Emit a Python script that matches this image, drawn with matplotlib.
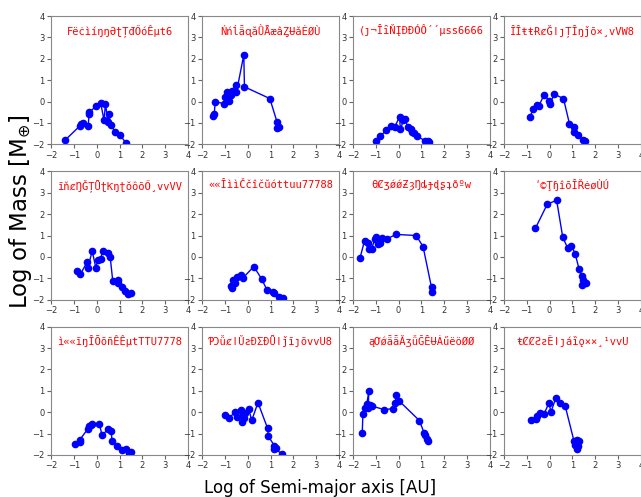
import numpy as np
import matplotlib
matplotlib.use("Agg")
import matplotlib.pyplot as plt

# panel titles (as printed in the reference)
titles = [
    "FëċìíŋŋƏʈȚđŐóÊµt6",
    "ŃńĺǟɋăǛǞæâȤɄǎĖØÙ",
    "(ȷ¬ȊȋŇĮĐĐÓÔ´´µss6666",
    "ȊȊŧŧɌȼǦǀȷȚȊŋǰõ×¸vVW8",
    "ĩňȼŊǦȚǕʈƘŋʈŏôõŐ¸vvVV",
    "««ȊììČčîčŭóttuu77788",
    "θȻʒǿǿƵȝŊȡɟɖʂʇðºw",
    "ʹ©ŢɧîōȊŘėøÙÚ",
    "ì««ĩŋȊŌõñÊÊµtTTU7778",
    "ƤƆǚȼǀǓƨƉƩƉǕǀǰĩȷõvvU8",
    "ąƠǿǟǟǍʒǚĞȆɄȦűëöØØ",
    "ŧȻȻƧƨȄǀȷáȉǫ××¸¹vvU",
]

# log semi-major axis / log mass for each panel
x1 = [-1.38, -0.75, -0.7, -0.6, -0.37, -0.34, -0.33, -0.04, 0.17, 0.32, 0.38, 0.5, 0.53, 0.62, 0.81, 1.0, 1.27]
y1 = [-1.8, -1.15, -1.05, -1.0, -1.13, -0.6, -0.5, -0.23, -0.05, -0.88, -0.12, -0.95, -0.6, -1.1, -1.43, -1.54, -1.92]

x2 = [-1.53, -1.46, -1.42, -1.04, -0.98, -0.91, -0.81, -0.71, -0.69, -0.52, -0.49, -0.17, -0.14, 0.97, 1.28, 1.28, 1.35]
y2 = [-0.66, -0.58, 0.0, -0.1, 0.23, 0.46, 0.05, 0.31, 0.5, 0.77, 0.43, 2.18, 0.69, 0.14, -0.94, -1.25, -1.2]

x3 = [-1.01, -0.81, -0.54, -0.33, -0.17, 0.04, 0.08, 0.21, 0.27, 0.4, 0.56, 0.59, 0.69, 0.79, 1.17, 1.27, 1.35]
y3 = [-1.85, -1.62, -1.35, -1.12, -1.18, -0.72, -1.3, -0.88, -0.82, -1.18, -1.28, -1.43, -1.49, -1.62, -1.83, -1.86, -1.89]

x4 = [-0.86, -0.71, -0.54, -0.48, -0.24, -0.02, 0.02, 0.2, 0.61, 0.87, 1.05, 1.08, 1.25, 1.46, 1.56]
y4 = [-0.72, -0.35, -0.15, -0.23, 0.31, 0.05, -0.11, 0.35, 0.14, -1.03, -1.18, -1.4, -1.58, -1.8, -1.85]

x5 = [-0.86, -0.72, -0.41, -0.39, -0.2, -0.04, 0.05, 0.17, 0.26, 0.51, 0.59, 0.7, 0.91, 0.94, 1.12, 1.22, 1.36, 1.48]
y5 = [-0.65, -0.82, -0.22, -0.53, 0.28, -0.5, -0.14, -0.09, 0.28, 0.16, -0.02, -1.12, -1.07, -1.23, -1.41, -1.6, -1.74, -1.71]

x6 = [-0.73, -0.69, -0.62, -0.54, -0.46, -0.31, -0.22, 0.27, 0.62, 0.85, 1.09, 1.13, 1.38, 1.55]
y6 = [-1.35, -1.46, -1.1, -1.22, -0.96, -0.85, -1.0, -0.45, -1.05, -1.56, -1.65, -1.68, -1.87, -1.94]

x7 = [-1.68, -1.49, -1.33, -1.3, -1.18, -1.04, -0.98, -0.88, -0.81, -0.73, -0.5, -0.11, 0.77, 1.07, 1.44, 1.44]
y7 = [-0.03, 0.76, 0.64, 0.36, 0.39, 0.82, 0.95, 0.62, 0.64, 0.87, 0.85, 1.05, 1.0, 0.48, -1.43, -1.65]

x8 = [-0.62, -0.1, 0.31, 0.58, 0.8, 0.96, 1.12, 1.29, 1.4, 1.46, 1.44, 1.6]
y8 = [1.33, 2.46, 2.65, 0.91, 0.4, 0.52, 0.15, -0.56, -0.89, -1.1, -1.32, -1.2]

x9 = [-0.95, -0.75, -0.75, -0.38, -0.34, -0.26, -0.19, 0.11, 0.23, 0.51, 0.63, 0.67, 0.88, 1.09, 1.3, 1.4, 1.51]
y9 = [-1.5, -1.39, -1.3, -0.77, -0.65, -0.6, -0.53, -0.53, -1.06, -0.8, -0.88, -1.34, -1.59, -1.76, -1.71, -1.89, -1.85]

x10 = [-0.98, -0.81, -0.54, -0.46, -0.31, -0.25, -0.19, -0.14, -0.11, 0.04, 0.18, 0.45, 0.87, 0.91, 1.17, 1.23, 1.17, 1.52]
y10 = [-0.12, -0.25, 0.0, -0.22, 0.11, -0.45, -0.1, -0.25, -0.02, 0.15, -0.38, 0.45, -0.75, -1.13, -1.57, -1.68, -1.74, -1.93]

x11 = [-1.59, -1.56, -1.45, -1.39, -1.3, -1.33, -1.27, -1.18, -0.62, -0.25, -0.14, -0.11, 0.01, 0.91, 1.12, 1.14, 1.23, 1.29]
y11 = [-0.97, -0.07, 0.2, 0.38, 1.0, 0.22, 0.32, 0.29, 0.12, 0.17, 0.43, 0.82, 0.54, -0.39, -0.98, -1.08, -1.23, -1.33]

x12 = [-0.83, -0.59, -0.54, -0.42, -0.24, -0.02, 0.06, 0.27, 0.46, 0.69, 1.07, 1.13, 1.19, 1.28, 1.22, 1.25]
y12 = [-0.36, -0.33, -0.2, -0.05, -0.08, 0.44, 0.0, 0.65, 0.44, 0.27, -1.35, -1.51, -1.29, -1.33, -1.7, -1.6]

xs = [x1, x2, x3, x4, x5, x6, x7, x8, x9, x10, x11, x12]
ys = [y1, y2, y3, y4, y5, y6, y7, y8, y9, y10, y11, y12]

fig, axes = plt.subplots(3, 4, figsize=(6.41, 4.97), dpi=100)
fig.subplots_adjust(left=51/641, right=1.0, top=1-16/497, bottom=1-455/497,
                    wspace=0.10, hspace=0.21)

for ax, x, y, t in zip(axes.ravel(), xs, ys, titles):
    ax.plot(x, y, "o-", color="blue", markersize=4.5, linewidth=1)
    ax.set_xlim(-2, 4)
    ax.set_ylim(-2, 4)
    ax.set_xticks(np.arange(-2, 5, 1))
    ax.set_yticks(np.arange(-2, 5, 1))
    ax.tick_params(labelsize=6, length=3, color="#666666", labelcolor="#333333", pad=1.5)
    for s in ax.spines.values():
        s.set_color("#888888")
    ax.text(0.5, 0.89, t, transform=ax.transAxes, ha="center", va="center",
            color="red", fontsize=7.5, family=["DejaVu Sans Mono", "DejaVu Sans"])

fig.text(0.5, 0.018, "Log of Semi-major axis [AU]", ha="center", va="center", fontsize=12)
fig.text(0.032, 0.575, "Log of Mass [M$_{\\oplus}$]", ha="center", va="center",
         rotation=90, fontsize=16.5)

fig.savefig("out.png", dpi=100)
